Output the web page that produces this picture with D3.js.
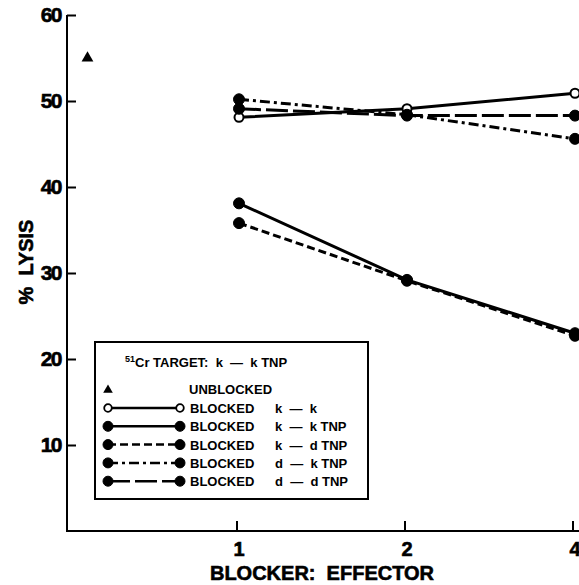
<!DOCTYPE html>
<html>
<head>
<meta charset="utf-8">
<script src="https://cdn.jsdelivr.net/npm/d3@7"></script>
<style>
  body { margin: 0; background: #fff; }
  svg { display: block; font-family: "Liberation Sans", Arial, sans-serif; font-weight: bold; }
  .heavy { stroke: #000; stroke-width: 0.6; }
</style>
</head>
<body>
<svg id="chart" width="579" height="585"></svg>
<script>
// ratios blocker:effector
const ratios = ['1', '2', '4'];
const yTicks = [10, 20, 30, 40, 50, 60];

// % lysis per series
const unblocked = 55;
const kk = [48.1, 49.1, 50.9];
const kkTnp = [38.1, 29.2, 23.0];
const kdTnp = [35.8, 29.1, 22.7];
const dkTnp = [50.2, 48.4, 45.6];
const ddTnp = [49.1, 48.3, 48.3];

const series = [
    { name: 'k — k', values: kk, open: true, dash: null },
    { name: 'k — k TNP', values: kkTnp, open: false, dash: null },
    { name: 'k — d TNP', values: kdTnp, open: false, dash: '8,4' },
    { name: 'd — k TNP', values: dkTnp, open: false, dash: '10,4,3,4' },
    { name: 'd — d TNP', values: ddTnp, open: false, dash: '22,5' }
];

const svg = d3.select('#chart');
const x0 = 67, yBase = 531;

const y = d3.scaleLinear().domain([0, 60]).range([yBase, 15]);
// ratio index -> pixel, unblocked point sits left of ratio 1
const x = d3.scaleLinear().domain([0, 1]).range([237, 405]);

// axes
const yAxis = svg.append('g')
    .attr('transform', `translate(${x0},0)`)
    .call(d3.axisRight(y).tickValues(yTicks).tickSize(9).tickFormat(''));
yAxis.select('.domain').attr('d', `M0,${y(60)}H0V${yBase}`).attr('stroke-width', 2);
yAxis.selectAll('.tick line').attr('stroke-width', 2);

svg.append('g')
    .selectAll('text')
    .data(yTicks)
    .join('text')
    .attr('class', 'heavy')
    .attr('x', x0 - 6)
    .attr('y', d => y(d) + 7)
    .attr('text-anchor', 'end')
    .attr('font-size', 21)
    .attr('letter-spacing', -1.5)
    .text(d => d);

svg.append('line')
    .attr('x1', x0 - 1).attr('x2', 579)
    .attr('y1', yBase).attr('y2', yBase)
    .attr('stroke', '#000').attr('stroke-width', 2);

svg.append('g')
    .selectAll('line')
    .data(ratios)
    .join('line')
    .attr('x1', (d, i) => x(i)).attr('x2', (d, i) => x(i))
    .attr('y1', yBase).attr('y2', yBase - 10)
    .attr('stroke', '#000').attr('stroke-width', 2);

svg.append('g')
    .selectAll('text')
    .data(ratios)
    .join('text')
    .attr('class', 'heavy')
    .attr('x', (d, i) => x(i) + 2)
    .attr('y', yBase + 25)
    .attr('text-anchor', 'middle')
    .attr('font-size', 20)
    .text(d => d);

svg.append('text')
    .attr('class', 'heavy')
    .attr('x', 322).attr('y', 580)
    .attr('text-anchor', 'middle')
    .attr('font-size', 20)
    .attr('xml:space', 'preserve')
    .text('BLOCKER:  EFFECTOR');

svg.append('text')
    .attr('class', 'heavy')
    .attr('transform', 'translate(33,262) rotate(-90)')
    .attr('text-anchor', 'middle')
    .attr('font-size', 20)
    .attr('xml:space', 'preserve')
    .text('%  LYSIS');

// lines
const line = d3.line()
    .x((d, i) => x(i) + 2)
    .y(d => y(d));

const gS = svg.selectAll('.series')
    .data(series)
    .join('g')
    .attr('class', 'series');

gS.append('path')
    .attr('d', d => line(d.values))
    .attr('fill', 'none')
    .attr('stroke', '#000')
    .attr('stroke-width', 3)
    .attr('stroke-dasharray', d => d.dash);

gS.selectAll('circle')
    .data(d => d.values.map(v => ({ v, open: d.open })))
    .join('circle')
    .attr('cx', (d, i) => x(i) + 2)
    .attr('cy', d => y(d.v))
    .attr('r', d => d.open ? 4.5 : 5.5)
    .attr('fill', d => d.open ? '#fff' : '#000')
    .attr('stroke', '#000')
    .attr('stroke-width', d => d.open ? 2 : 1);

const tri = d3.symbol().type(d3.symbolTriangle).size(60);
svg.append('path')
    .attr('d', tri())
    .attr('transform', `translate(${x(-0.89)},${y(unblocked)})`)
    .attr('fill', '#000');

// legend
const lg = svg.append('g');
lg.append('rect')
    .attr('x', 95).attr('y', 342)
    .attr('width', 273).attr('height', 157)
    .attr('fill', '#fff')
    .attr('stroke', '#000').attr('stroke-width', 2);

const title = lg.append('text')
    .attr('x', 125).attr('y', 367)
    .attr('font-size', 13)
    .attr('xml:space', 'preserve');
title.append('tspan').attr('font-size', 9).attr('dy', -5).text('51');
title.append('tspan').attr('dy', 5).text('Cr TARGET:  k  —  k TNP');

lg.append('path')
    .attr('d', tri.size(40)())
    .attr('transform', 'translate(108,390)')
    .attr('fill', '#000');
lg.append('text')
    .attr('x', 189).attr('y', 394)
    .attr('font-size', 13)
    .text('UNBLOCKED');

const row = lg.selectAll('.row')
    .data(series)
    .join('g')
    .attr('class', 'row')
    .attr('transform', (d, i) => `translate(0,${408 + i * 18.3})`);

row.append('line')
    .attr('x1', 108).attr('x2', 180)
    .attr('stroke', '#000').attr('stroke-width', 2.5)
    .attr('stroke-dasharray', d => d.dash);

row.selectAll('circle')
    .data(d => [108, 180].map(cx => ({ cx, open: d.open })))
    .join('circle')
    .attr('cx', d => d.cx)
    .attr('r', d => d.open ? 3.8 : 5)
    .attr('fill', d => d.open ? '#fff' : '#000')
    .attr('stroke', '#000')
    .attr('stroke-width', d => d.open ? 1.8 : 1);

row.append('text')
    .attr('x', 190).attr('y', 5)
    .attr('font-size', 13)
    .text('BLOCKED');

row.append('text')
    .attr('x', 275).attr('y', 5)
    .attr('font-size', 13)
    .attr('xml:space', 'preserve')
    .text(d => d.name.replace(' — ', '  —  '));
</script>
</body>
</html>
